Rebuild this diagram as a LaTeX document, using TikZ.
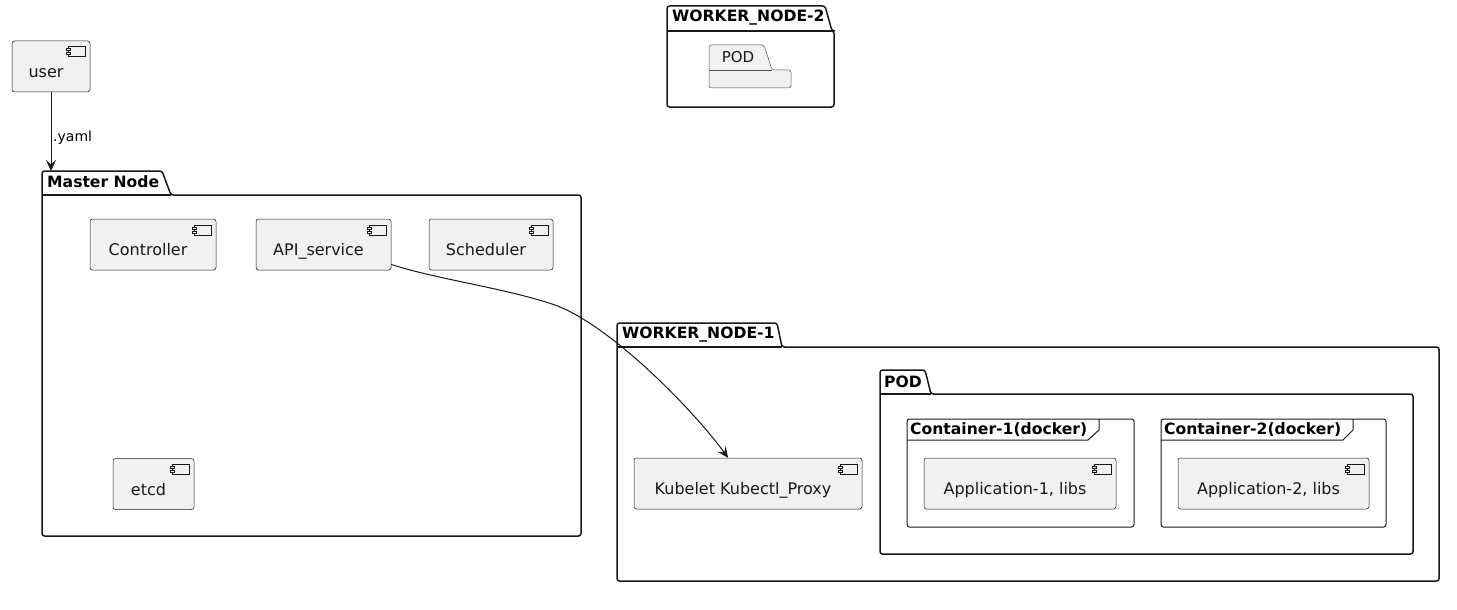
\documentclass[tikz,border=0pt]{standalone}
\usepackage{fontspec}
\setmainfont{DejaVu Sans}
\usetikzlibrary{arrows.meta}
\definecolor{lineclr}{RGB}{24,24,24}
\definecolor{compfill}{RGB}{241,241,241}
\newcommand\drawpkg[8]{%
  \draw[#1] (#2,#6) -- (#2,#3) -- (#4,#3) -- (#5,#6) -- (#7,#6) -- (#7,#8) -- (#2,#8) -- cycle;
  \draw[#1,rounded corners=0pt,fill=none] (#2,#6) -- (#5,#6);
}
\newcommand\compicon[1]{%
  \draw[iconline] ([xshift=-22pt,yshift=-6pt]#1.north east) rectangle ([xshift=-5pt,yshift=-16pt]#1.north east);
  \draw[iconline,fill=compfill] ([xshift=-24pt,yshift=-8pt]#1.north east) rectangle ([xshift=-20pt,yshift=-10pt]#1.north east);
  \draw[iconline,fill=compfill] ([xshift=-24pt,yshift=-12pt]#1.north east) rectangle ([xshift=-20pt,yshift=-14pt]#1.north east);
}
\tikzset{
  comp/.style={draw=lineclr, line width=0.5pt, fill=compfill, rounded corners=2.5pt,
    inner sep=0pt, text height=24pt, text depth=2pt, minimum height=51pt,
    font=\fontsize{16}{18}\selectfont, text=lineclr,
    execute at begin node={\hspace*{-10pt}}},
  iconline/.style={draw=lineclr, line width=0.5pt},
  pkgline/.style={draw=lineclr, line width=1.5pt, rounded corners=2.5pt, line join=round},
  podline/.style={draw=lineclr!75, line width=0.5pt, fill=compfill, rounded corners=2.5pt},
  frameline/.style={draw=lineclr, line width=1pt, rounded corners=2.5pt},
  titlebold/.style={anchor=base west, inner sep=0pt, font=\bfseries\fontsize{15.6}{18}\selectfont, text=black},
  titleplain/.style={anchor=base, inner sep=0pt, font=\fontsize{15}{17}\selectfont, text=lineclr},
  lbl/.style={anchor=base west, inner sep=0pt, font=\fontsize{14}{16}\selectfont, text=black},
  conn/.style={draw=lineclr, line width=1pt, -{Stealth[length=11pt,width=10pt,inset=4.5pt]}}
}
\begin{document}
\begin{tikzpicture}[x=1pt,y=-1pt]
\useasboundingbox (0,0) rectangle (1457,610);
% packages
\drawpkg{pkgline}{42}{171}{162}{171}{195}{581}{536}
\node[titlebold] (mastertitle) at (47,187) {Master Node};
\drawpkg{pkgline}{667}{6}{825}{832}{31}{834}{107}
\node[titlebold] (wn2title) at (672,22) {WORKER\_NODE-2};
\drawpkg{podline}{709}{45}{764}{772}{70}{791}{88}
\node[titleplain] (pod2title) at (738,63) {POD};
\drawpkg{pkgline}{617}{323}{777}{782}{347}{1439}{581}
\node[titlebold] (wn1title) at (622,338) {WORKER\_NODE-1};
\drawpkg{pkgline}{880}{370}{925}{931}{394}{1413}{554}
\node[titlebold] (podtitle) at (884,387) {POD};
% frames
\draw[frameline] (907,419) rectangle (1134,527);
\draw[draw=lineclr, line width=1pt] (907,440) -- (1088,440) -- (1099,430) -- (1099,419);
\node[titlebold] (c1title) at (910,434) {Container-1(docker)};
\draw[frameline] (1161,419) rectangle (1386,527);
\draw[draw=lineclr, line width=1pt] (1161,440) -- (1343,440) -- (1353,430) -- (1353,419);
\node[titlebold] (c2title) at (1164,434) {Container-2(docker)};
% components
\node[comp, minimum width=78pt] (user) at (51,66.5) {user};
\node[comp, minimum width=126pt] (ctrl) at (153,244.5) {Controller};
\node[comp, minimum width=135pt] (api) at (323.5,244.5) {API\_service};
\node[comp, minimum width=124pt] (sched) at (491,244.5) {Scheduler};
\node[comp, minimum width=81pt] (etcd) at (153.5,484) {etcd};
\node[comp, minimum width=228pt] (kub) at (748,483.5) {Kubelet Kubectl\_Proxy};
\node[comp, minimum width=192pt] (app1) at (1020,483.5) {Application-1, libs};
\node[comp, minimum width=191pt] (app2) at (1273.5,483.5) {Application-2, libs};
\foreach \n in {user,ctrl,api,sched,etcd,kub,app1,app2} {\compicon{\n}}
% connectors
\coordinate (mastertop) at (51,171);
\draw[conn] (user.south) -- (mastertop);
\node[lbl] (yaml) at (53,141) {.yaml};
\draw[conn] ([yshift=-20pt]api.east) .. controls (440,280) and (505,288) .. (555,305)
  .. controls (612,326) and (695,412) .. ([xshift=-20pt]kub.north);
\end{tikzpicture}
\end{document}
